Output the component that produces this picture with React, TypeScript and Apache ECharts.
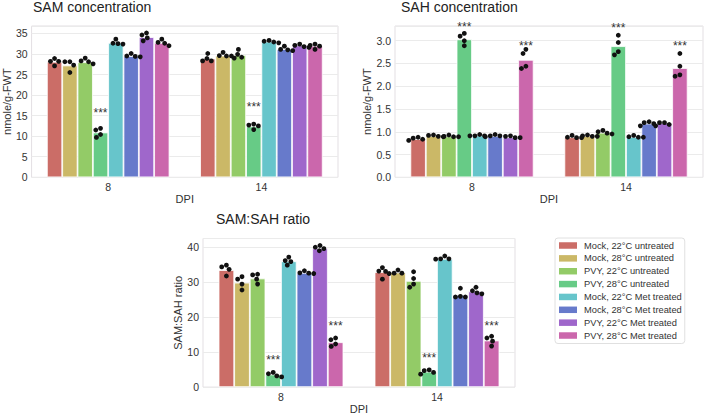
import React, { useEffect, useRef } from 'react';
import * as echarts from 'echarts';

const dpiLabels = ['8', '14'];
const groupNames = [
  'Mock, 22°C untreated',
  'Mock, 28°C untreated',
  'PVY, 22°C untreated',
  'PVY, 28°C untreated',
  'Mock, 22°C Met treated',
  'Mock, 28°C Met treated',
  'PVY, 22°C Met treated',
  'PVY, 28°C Met treated',
];
const groupColors = ['#CB6D67', '#CBB867', '#93CB67', '#67CB86', '#67C5CB', '#677ACB', '#9F67CB', '#CB67AC'];

// bar heights per group: [DPI 8, DPI 14]
const samBars = [[28.1, 28.9], [27.2, 29.6], [28.0, 29.7], [10.9, 12.4], [32.7, 33.0], [29.5, 31.2], [34.1, 32.1], [32.7, 32.0]];
const sahBars = [[0.84, 0.88], [0.91, 0.91], [0.90, 0.98], [3.03, 2.88], [0.92, 0.89], [0.91, 1.18], [0.88, 1.19], [2.58, 2.40]];
const ratioBars = [[33.4, 32.8], [29.8, 32.7], [31.0, 30.3], [3.6, 4.4], [35.9, 36.6], [32.6, 26.3], [39.6, 27.3], [12.8, 13.3]];

// individual replicates per group: [DPI 8 points, DPI 14 points]
const samPoints = [
  [[28.9, 28.2, 28.2, 27.1], [30.1, 28.9, 28.3, 28.3]],
  [[28.1, 28.1, 27.3, 25.5], [30.4, 29.6, 29.5, 29.5]],
  [[29.0, 28.3, 28.1, 27.6], [31.1, 29.9, 29.2, 29.0]],
  [[11.9, 11.5, 10.4, 9.7], [12.95, 12.7, 12.5, 11.6]],
  [[33.6, 32.6, 32.5, 32.4], [33.3, 33.1, 32.9, 32.7]],
  [[30.1, 29.4, 29.3, 29.5], [31.9, 31.0, 30.8, 31.1]],
  [[35.1, 34.6, 33.9, 33.2], [32.4, 32.1, 31.6, 31.8]],
  [[33.6, 32.8, 32.0, 32.6], [32.4, 32.1, 31.1, 31.9]],
];
const sahPoints = [
  [[0.88, 0.86, 0.835, 0.81], [0.92, 0.88, 0.87, 0.87]],
  [[0.93, 0.92, 0.9, 0.89], [0.93, 0.91, 0.9, 0.9]],
  [[0.93, 0.9, 0.89, 0.89], [1.03, 1.0, 0.97, 0.95]],
  [[3.16, 3.1, 3.0, 2.89], [3.12, 2.96, 2.76, 2.69]],
  [[0.94, 0.91, 0.91, 0.91], [0.92, 0.89, 0.88, 0.88]],
  [[0.94, 0.91, 0.91, 0.89], [1.22, 1.2, 1.18, 1.13]],
  [[0.91, 0.9, 0.87, 0.87], [1.2, 1.2, 1.16, 1.13]],
  [[2.81, 2.72, 2.44, 2.39], [2.72, 2.44, 2.25, 2.22]],
];
const ratioPoints = [
  [[34.8, 34.3, 33.6, 31.7], [34.1, 33.1, 33.0, 30.8]],
  [[31.5, 30.8, 29.4, 27.7], [33.4, 32.5, 32.5, 32.4]],
  [[32.2, 32.0, 30.8, 29.4], [32.9, 31.0, 29.4, 28.5]],
  [[4.2, 3.8, 3.2, 2.9], [4.9, 4.7, 4.2, 3.7]],
  [[37.1, 36.1, 35.8, 34.8], [37.4, 36.6, 36.6, 36.5]],
  [[33.2, 32.6, 32.4, 32.5], [28.2, 25.9, 25.7, 25.7]],
  [[40.4, 39.9, 39.5, 38.9], [28.5, 27.5, 26.6, 26.9]],
  [[14.0, 13.5, 12.3, 11.6], [14.5, 14.0, 13.1, 11.7]],
];

// significance marks: [DPI index, group index, value]
const samStars = [[0, 3, 16.4], [1, 3, 17.8]];
const sahStars = [[0, 3, 3.37], [0, 7, 2.96], [1, 3, 3.34], [1, 7, 2.96]];
const ratioStars = [[0, 3, 8.6], [0, 7, 18.2], [1, 3, 9.3], [1, 7, 18.2]];

const chartTitles = ['SAM concentration', 'SAH concentration', 'SAM:SAH ratio'];
const yNames = ['nmole/g-FWT', 'nmole/g-FWT', 'SAM:SAH ratio'];

const FONT = '"Liberation Sans", Arial, Helvetica, sans-serif';
const TXT = '#333';
const NG = groupNames.length;

function barCenter(api: any, cat: number, g: number) {
  const center = api.coord([cat, 0])[0];
  const band = api.size([1, 0])[0];
  const gw = band * 0.8;
  const bw = gw / NG;
  return center - gw / 2 + (g + 0.5) * bw;
}

function swarmItem(params: any, api: any) {
  const cat = api.value(0);
  const g = api.value(1);
  const vals = [api.value(2), api.value(3), api.value(4), api.value(5)];
  const cx = barCenter(api, cat, g);
  const R = 2.4;
  const D = 2 * R + 0.2;
  const ys = vals.map((v: number) => api.coord([cat, v])[1]);
  const order = ys.map((_: number, i: number) => i).sort((a: number, b: number) => ys[a] - ys[b]);
  const placed: { x: number; y: number }[] = [];
  const children: any[] = [];
  for (const i of order) {
    const y = ys[i];
    const cands = [0];
    for (const p of placed) {
      const dy = Math.abs(p.y - y);
      if (dy < D) {
        const dx = Math.sqrt(D * D - dy * dy);
        cands.push(p.x + dx, p.x - dx);
      }
    }
    cands.sort((a, b) => Math.abs(a) - Math.abs(b) || a - b);
    let x = 0;
    for (const c of cands) {
      if (placed.every((p) => (p.x - c) ** 2 + (p.y - y) ** 2 >= D * D - 0.01)) {
        x = c;
        break;
      }
    }
    placed.push({ x, y });
    children.push({ type: 'circle', shape: { cx: cx + x, cy: y, r: R }, style: { fill: '#111' } });
  }
  return { type: 'group', children };
}

function starItem(params: any, api: any) {
  const cat = api.value(0);
  const g = api.value(1);
  const cx = barCenter(api, cat, g);
  const y = api.coord([cat, api.value(2)])[1] + 3;
  return {
    type: 'text',
    x: cx,
    y,
    style: { text: '***', fill: '#333', fontSize: 12, fontFamily: FONT, align: 'center', verticalAlign: 'middle' },
  };
}

function buildSeries(k: number, bars: number[][], points: number[][][], stars: number[][]) {
  const out: any[] = [];
  bars.forEach((vals, g) => {
    out.push({
      type: 'bar',
      name: groupNames[g],
      xAxisIndex: k,
      yAxisIndex: k,
      data: vals,
      barGap: '0%',
      barCategoryGap: '20%',
      itemStyle: { color: groupColors[g], borderColor: '#fff', borderWidth: 0.8 },
      emphasis: { disabled: true },
    });
  });
  const pts: number[][] = [];
  points.forEach((byCat, g) => byCat.forEach((arr, c) => pts.push([c, g, ...arr])));
  out.push({
    type: 'custom',
    name: 'pts' + k,
    xAxisIndex: k,
    yAxisIndex: k,
    z: 5,
    renderItem: swarmItem,
    encode: { x: 0, y: [2, 3, 4, 5] },
    data: pts,
    clip: false,
  });
  out.push({
    type: 'custom',
    name: 'stars' + k,
    xAxisIndex: k,
    yAxisIndex: k,
    z: 6,
    renderItem: starItem,
    encode: { x: 0, y: 2 },
    data: stars,
    clip: false,
  });
  return out;
}

function yAxis(k: number, max: number, interval: number, digits: number) {
  return {
    type: 'value',
    gridIndex: k,
    min: 0,
    max,
    interval,
    name: yNames[k],
    nameLocation: 'middle',
    nameGap: 16,
    nameTextStyle: { fontSize: 11, color: TXT, fontFamily: FONT },
    axisLine: { show: false },
    axisTick: { show: false },
    axisLabel: {
      fontSize: 10.5,
      color: TXT,
      fontFamily: FONT,
      margin: 4,
      showMaxLabel: false,
      formatter: (v: number) => v.toFixed(digits),
    },
    splitLine: { lineStyle: { color: '#ebebeb', width: 1 } },
  };
}

function xAxis(k: number) {
  return {
    type: 'category',
    gridIndex: k,
    data: dpiLabels,
    name: 'DPI',
    nameLocation: 'middle',
    nameGap: 13,
    nameTextStyle: { fontSize: 11, color: TXT, fontFamily: FONT },
    axisLine: { show: false },
    axisTick: { show: false },
    axisLabel: { fontSize: 10.5, color: TXT, fontFamily: FONT, margin: 4 },
    splitLine: { show: false },
  };
}

function titleOpt(i: number, left: number, top: number) {
  return {
    text: chartTitles[i],
    left,
    top,
    padding: 0,
    textStyle: { fontSize: 14, color: '#222', fontFamily: FONT, fontWeight: 'normal' },
  };
}

export default function App() {
  const ref = useRef<HTMLDivElement>(null);
  useEffect(() => {
    document.body.style.margin = '0';
    if (!ref.current) return;
    const chart = echarts.init(ref.current, undefined, { renderer: 'svg' });
    const gridStyle = { show: true, borderColor: '#e3dfe3', borderWidth: 1, backgroundColor: '#fff' };
    chart.setOption({
      animation: false,
      backgroundColor: '#fff',
      textStyle: { fontFamily: FONT },
      title: [titleOpt(0, 33, 0), titleOpt(1, 401, 0), titleOpt(2, 216, 211.5)],
      grid: [
        { ...gridStyle, left: 28, top: 26, width: 310, height: 151.3 },
        { ...gridStyle, left: 395, top: 26, width: 308, height: 151.3 },
        { ...gridStyle, left: 203, top: 238.5, width: 312, height: 152.5 },
      ],
      xAxis: [xAxis(0), xAxis(1), xAxis(2)],
      yAxis: [yAxis(0, 36.8, 5, 0), yAxis(1, 3.323, 0.5, 1), yAxis(2, 42.4, 10, 0)],
      legend: {
        data: groupNames,
        orient: 'vertical',
        left: 555,
        top: 238,
        padding: [1.5, 3, 2, 4],
        itemGap: 0.86,
        itemWidth: 18,
        itemHeight: 6.5,
        icon: 'rect',
        borderColor: '#e0e0e0',
        borderWidth: 1,
        borderRadius: 3,
        itemStyle: { borderWidth: 0 },
        textStyle: { fontSize: 9.3, color: TXT, fontFamily: FONT, lineHeight: 12, padding: [0, 0, 0, 2] },
        selectedMode: false,
      },
      series: [
        ...buildSeries(0, samBars, samPoints, samStars),
        ...buildSeries(1, sahBars, sahPoints, sahStars),
        ...buildSeries(2, ratioBars, ratioPoints, ratioStars),
      ],
    });
    return () => chart.dispose();
  }, []);
  return <div ref={ref} style={{ width: 709, height: 415 }} />;
}
